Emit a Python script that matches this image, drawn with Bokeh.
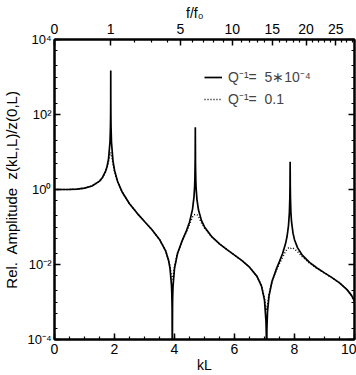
from bokeh.plotting import figure
from bokeh.models import (FixedTicker, LinearAxis, LogAxis, CustomJSTickFormatter,
                          Legend, LegendItem, Range1d, ColumnDataSource)
from bokeh.embed import file_html
from bokeh.resources import INLINE

# ---- data (kL, relative amplitude) ----
kL_solid = [0, 0.25, 0.5, 0.75, 1.0, 1.25, 1.5, 1.6, 1.7, 1.75, 1.8, 1.85, 1.865, 1.87,
            1.873, 1.875, 1.877, 1.88, 1.885, 1.9, 1.95, 2.0, 2.1, 2.25, 2.5, 2.75, 3.0,
            3.25, 3.5, 3.7, 3.8, 3.85, 3.9, 3.91, 3.92, 3.9266, 3.935, 3.94, 3.95, 4.0,
            4.1, 4.25, 4.4, 4.5, 4.6, 4.65, 4.67, 4.68, 4.69, 4.694, 4.70, 4.71, 4.72,
            4.75, 4.8, 4.9, 5.0, 5.25, 5.5, 5.75, 6.0, 6.25, 6.5, 6.75, 6.9, 7.0, 7.05,
            7.06, 7.0686, 7.08, 7.1, 7.15, 7.25, 7.4, 7.5, 7.6, 7.7, 7.75, 7.8, 7.83,
            7.845, 7.85, 7.855, 7.86, 7.865, 7.88, 7.9, 7.95, 8.0, 8.1, 8.25, 8.5, 8.75,
            9.0, 9.25, 9.5, 9.75, 9.9, 10.0]
amp_solid = [1.0, 1.0, 1.004, 1.023, 1.086, 1.239, 1.673, 2.096, 3.022, 4.052, 6.465, 18.5,
             45, 90, 220, 1500, 235, 92, 45, 17.9, 5.69, 3.27, 1.663, 0.874, 0.418, 0.235,
             0.1405, 0.0842, 0.0466, 0.0235, 0.01307, 0.00795, 0.00277, 0.00174, 0.00069,
             3e-5, 0.0009, 0.00143, 0.00257, 0.00787, 0.0196, 0.0420, 0.0803, 0.1339,
             0.295, 0.637, 1.17, 2.0, 7.0, 46, 4.8, 1.8, 1.1, 0.529, 0.283, 0.148, 0.1004,
             0.0544, 0.0356, 0.0249, 0.01784, 0.01265, 0.00849, 0.00482, 0.00265, 0.00112,
             0.0003, 0.000142, 1e-5, 0.000194, 0.000543, 0.00145, 0.00352, 0.00775,
             0.0121, 0.0194, 0.0356, 0.0549, 0.109, 0.242, 0.61, 1.25, 5.5, 1.19, 0.61,
             0.246, 0.1405, 0.0685, 0.0459, 0.0282, 0.01815, 0.01137, 0.00808, 0.00598,
             0.00446, 0.00324, 0.00214, 0.0015, 0.00106]

kL_dotted = [0, 0.25, 0.5, 0.75, 1.0, 1.25, 1.5, 1.6, 1.7, 1.75, 1.8, 1.85, 1.875, 1.9,
             1.95, 2.0, 2.1, 2.25, 2.5, 2.75, 3.0, 3.25, 3.5, 3.7, 3.8, 3.85, 3.9, 3.9266,
             3.95, 4.0, 4.1, 4.25, 4.4, 4.5, 4.6, 4.65, 4.694, 4.75, 4.8, 4.9, 5.0, 5.25,
             5.5, 5.75, 6.0, 6.25, 6.5, 6.75, 6.9, 7.0, 7.05, 7.0686, 7.1, 7.15, 7.25,
             7.4, 7.5, 7.6, 7.7, 7.75, 7.8, 7.855, 7.9, 7.95, 8.0, 8.1, 8.25, 8.5, 8.75,
             9.0, 9.25, 9.5, 9.75, 9.9, 10.0]
amp_dotted = [1.0, 1.0, 1.004, 1.023, 1.086, 1.237, 1.66, 2.066, 2.92, 3.79, 5.48, 8.7,
              9.7, 8.37, 4.82, 3.06, 1.63, 0.867, 0.417, 0.235, 0.1403, 0.0841, 0.0466,
              0.0238, 0.01367, 0.0089, 0.00487, 0.004, 0.00475, 0.00883, 0.0200, 0.0422,
              0.0746, 0.115, 0.185, 0.21, 0.215, 0.215, 0.19, 0.129, 0.094, 0.0532,
              0.0352, 0.0249, 0.01784, 0.01265, 0.00849, 0.00486, 0.00272, 0.00127,
              0.00067, 0.0006, 0.00081, 0.00157, 0.00357, 0.0071, 0.0106, 0.0154, 0.0221,
              0.0259, 0.0275, 0.026, 0.028, 0.0275, 0.026, 0.022, 0.0163, 0.0109, 0.00789,
              0.0059, 0.00446, 0.00324, 0.00214, 0.0015, 0.00106]

x_ticks = [0, 2, 4, 6, 8, 10]
y_ticks = [1e-4, 1e-2, 1, 1e2, 1e4]
f_ticks = [0, 1, 5, 10, 15, 20, 25]      # top axis f/f0 labels
kL1 = 1.875                              # kL of the first resonance (f = f0)
legend_labels = ["Q\u207b\u00b9=\u00a0\u00a05\u221710\u207b\u2074", "Q\u207b\u00b9=\u00a0\u00a00.1"]

FONT = "Liberation Sans"

p = figure(width=356, height=375, x_range=Range1d(0, 10), y_range=Range1d(1e-4, 1e4),
           y_axis_type="log", output_backend="svg", toolbar_location=None,
           min_border_left=54, min_border_right=2, min_border_top=39, min_border_bottom=35)
p.xgrid.visible = False
p.ygrid.visible = False
p.outline_line_color = "black"
p.outline_line_width = 2
p.background_fill_color = "white"
p.border_fill_color = "white"

src_s = ColumnDataSource(dict(x=kL_solid, y=amp_solid))
src_d = ColumnDataSource(dict(x=kL_dotted, y=amp_dotted))
r_s = p.line("x", "y", source=src_s, line_color="black", line_width=1.7)
r_d = p.line("x", "y", source=src_d, line_color="black", line_width=1.5, line_dash="1 2")


def style(ax, size="13px"):
    ax.axis_line_width = 2
    ax.axis_line_color = "black"
    ax.major_tick_in = 6
    ax.major_tick_out = 0
    ax.minor_tick_in = 3
    ax.minor_tick_out = 0
    ax.major_tick_line_width = 1.5
    ax.minor_tick_line_width = 1.2
    ax.major_label_text_font = FONT
    ax.major_label_text_font_size = size
    ax.major_label_text_color = "black"
    ax.axis_label_text_font = FONT
    ax.axis_label_text_font_style = "normal"
    ax.axis_label_text_color = "black"


# bottom axis
xa = p.xaxis[0]
xa.ticker = FixedTicker(ticks=x_ticks, minor_ticks=[i * 0.5 for i in range(21)])
xa.axis_label = "kL"
style(xa, "14px")
xa.major_label_standoff = 4
xa.axis_label_standoff = 0
xa.axis_label_text_font_size = "14px"

# left axis
ya = p.yaxis[0]
minor_y = []
for n in range(-4, 4):
    for m in (2, 5, 10):
        minor_y.append(m * 10.0 ** n)
ya.ticker = FixedTicker(ticks=y_ticks, minor_ticks=minor_y)
sup_code = """
const e = Math.round(Math.log10(tick));
const m = {"-":"\\u207b","0":"\\u2070","1":"\\u00b9","2":"\\u00b2","3":"\\u00b3",
           "4":"\\u2074","5":"\\u2075","6":"\\u2076","7":"\\u2077","8":"\\u2078","9":"\\u2079"};
return "10" + String(e).split("").map(c => m[c]).join("");
"""
ya.formatter = CustomJSTickFormatter(code=sup_code)
ya.axis_label = "Rel.\u00a0 Amplitude\u00a0 z(kL,L)/z(0,L)"
style(ya)
ya.major_label_standoff = 3
ya.axis_label_standoff = 4
ya.axis_label_text_font_size = "15px"

# right axis (ticks only)
ra = LogAxis(ticker=FixedTicker(ticks=y_ticks, minor_ticks=minor_y),
             formatter=CustomJSTickFormatter(code="return '';"))
style(ra)
ra.major_label_standoff = 0
p.add_layout(ra, "right")

# top axis f/f0
top_pos = [kL1 * f ** 0.5 for f in f_ticks]
top_minor = [kL1 * f ** 0.5 for f in range(2, 29) if f not in f_ticks]
ta = LinearAxis(ticker=FixedTicker(ticks=top_pos, minor_ticks=top_minor),
                formatter=CustomJSTickFormatter(code="return String(Math.round((tick/%r)**2));" % kL1))
ta.axis_label = "f/f\u2080\u00a0\u00a0\u00a0\u00a0\u00a0"
style(ta, "14px")
ta.major_label_standoff = 6
ta.axis_label_standoff = 0
ta.axis_label_text_font_size = "14px"
p.add_layout(ta, "above")

legend = Legend(items=[LegendItem(label=legend_labels[0], renderers=[r_s]),
                       LegendItem(label=legend_labels[1], renderers=[r_d])],
                location=(150, 231))
legend.background_fill_alpha = 0
legend.border_line_alpha = 0
legend.padding = 0
legend.margin = 0
legend.spacing = 3
legend.glyph_width = 18
legend.glyph_height = 14
legend.label_height = 14
legend.label_standoff = 6
legend.label_text_font = FONT
legend.label_text_font_size = "14px"
p.add_layout(legend)

open("out.html", "w").write(file_html(p, INLINE))
